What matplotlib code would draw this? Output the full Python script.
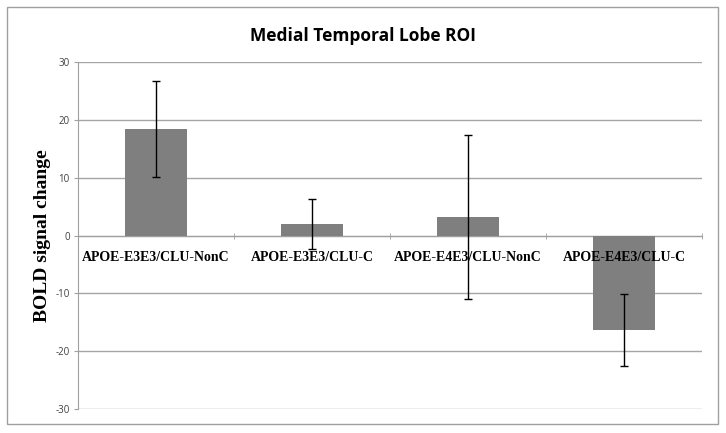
import matplotlib.pyplot as plt
import numpy as np
from matplotlib.patches import Rectangle

categories = ['APOE-E3E3/CLU-NonC', 'APOE-E3E3/CLU-C', 'APOE-E4E3/CLU-NonC', 'APOE-E4E3/CLU-C']
means = [18.5, 2.0, 3.2, -16.3]
errors = [8.3, 4.3, 14.2, 6.2]
yticks = [-30, -20, -10, 0, 10, 20, 30]

fig = plt.figure(figsize=(7.26, 4.33), dpi=100)
ax = fig.add_axes([0.1074, 0.0554, 0.8596, 0.8014])

x = np.arange(len(categories))
ax.bar(x, means, width=0.4, color='#7f7f7f', zorder=3)
ax.errorbar(x, means, yerr=errors, fmt='none', ecolor='black', elinewidth=1,
            capsize=3, capthick=1, zorder=6)

ax.set_xlim(-0.5, len(categories) - 0.5)
ax.set_ylim(-30, 30)
ax.set_yticks(yticks)
ax.set_yticklabels([str(t) for t in yticks], fontfamily='Open Sans', fontsize=7, color='#404040')
ax.tick_params(axis='y', length=3, color='#a0a0a0', pad=3)
ax.grid(axis='y', color='#a6a6a6', linewidth=1, zorder=0)

for s in ['top', 'right']:
    ax.spines[s].set_visible(False)
ax.spines['left'].set_color('#a0a0a0')
ax.spines['bottom'].set_position(('data', 0))
ax.spines['bottom'].set_color('#a0a0a0')

ax.set_xticks(x)
ax.set_xticklabels(categories, fontfamily='Liberation Serif', fontweight='bold', fontsize=10)
ax.tick_params(axis='x', length=0, pad=11)
ax.set_xticks(np.arange(len(categories)) + 0.5, minor=True)
ax.tick_params(axis='x', which='minor', length=4, direction='inout', color='#a0a0a0')
ax.xaxis.set_zorder(5)

ax.set_ylabel('BOLD signal change', fontfamily='Liberation Serif', fontweight='bold',
              fontsize=14, labelpad=3)
fig.text(0.5, 0.918, 'Medial Temporal Lobe ROI', ha='center', va='center',
         fontfamily='Open Sans', fontweight='bold', fontsize=12.5)

fig.patches.append(Rectangle((0.0096, 0.021), 0.979, 0.963, transform=fig.transFigure,
                             fill=False, edgecolor='#a0a0a0', linewidth=1))

fig.savefig('out.png', dpi=100)
